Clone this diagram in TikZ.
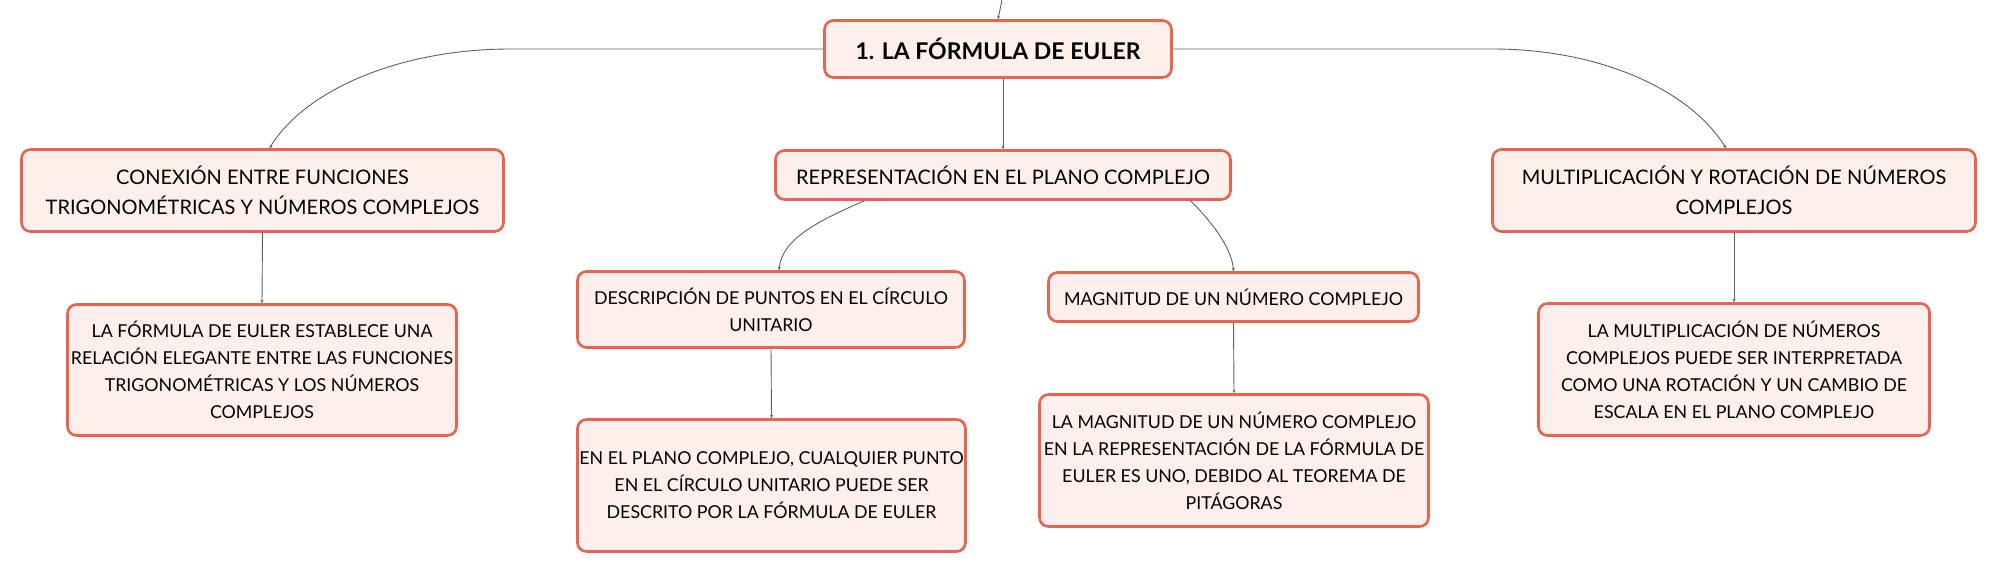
\documentclass[tikz,border=0pt]{standalone}
\usepackage{fontspec}
\setmainfont{Lato}
\usetikzlibrary{arrows.meta,calc}
\definecolor{bordc}{HTML}{E9634F}
\definecolor{fillc}{HTML}{FDF0EC}
\definecolor{linec}{HTML}{5F5F5F}
\begin{document}
\begin{tikzpicture}[x=1pt,y=-1pt,
  box/.style={draw=bordc, fill=fillc, line width=2.6pt, rounded corners=9pt, inner sep=0pt, align=center, text=black},
  big/.style={font=\fontsize{20}{30}\selectfont},
  small/.style={font=\fontsize{17.8}{27}\selectfont},
  conn/.style={draw=linec, line width=0.9pt, -{Stealth[length=3.5pt,width=3pt]}},
]
\useasboundingbox (0,0) rectangle (1997,574);
\node[box, minimum width=347pt, minimum height=57pt, font=\fontsize{23}{28}\selectfont\bfseries] (root) at (998,49) {1. LA FÓRMULA DE EULER};

\node[box, big, minimum width=482pt, minimum height=82pt] (l1) at (262.5,190.5) {CONEXIÓN ENTRE FUNCIONES\\TRIGONOMÉTRICAS Y NÚMEROS COMPLEJOS};
\node[box, big, minimum width=455pt, minimum height=49pt] (c1) at (1003,175) {REPRESENTACIÓN EN EL PLANO COMPLEJO};
\node[box, big, minimum width=483pt, minimum height=82pt] (r1) at (1734,190.5) {MULTIPLICACIÓN Y ROTACIÓN DE NÚMEROS\\COMPLEJOS};

\node[box, small, minimum width=389pt, minimum height=131pt] (l2) at (262,370) {LA FÓRMULA DE EULER ESTABLECE UNA\\RELACIÓN ELEGANTE ENTRE LAS FUNCIONES\\TRIGONOMÉTRICAS Y LOS NÚMEROS\\COMPLEJOS};
\node[box, small, minimum width=387pt, minimum height=76pt] (d2) at (771,309.5) {DESCRIPCIÓN DE PUNTOS EN EL CÍRCULO\\UNITARIO};
\node[box, small, minimum width=370pt, minimum height=49pt] (m2) at (1233.5,297) {MAGNITUD DE UN NÚMERO COMPLEJO};
\node[box, small, minimum width=391pt, minimum height=132pt] (r2) at (1734,369.5) {LA MULTIPLICACIÓN DE NÚMEROS\\COMPLEJOS PUEDE SER INTERPRETADA\\COMO UNA ROTACIÓN Y UN CAMBIO DE\\ESCALA EN EL PLANO COMPLEJO};

\node[box, small, minimum width=388pt, minimum height=132pt] (d3) at (771.5,485.5) {EN EL PLANO COMPLEJO, CUALQUIER PUNTO\\EN EL CÍRCULO UNITARIO PUEDE SER\\DESCRITO POR LA FÓRMULA DE EULER};
\node[box, small, minimum width=389pt, minimum height=132pt] (m3) at (1234,460.5) {LA MAGNITUD DE UN NÚMERO COMPLEJO\\EN LA REPRESENTACIÓN DE LA FÓRMULA DE\\EULER ES UNO, DEBIDO AL TEOREMA DE\\PITÁGORAS};

% incoming line from above
\coordinate (top) at (1002,0);
\draw[conn] (top) -- (root.north);

% root to level 1
\coordinate (lk) at ($(root.west)+(-313,0)$);
\coordinate (le) at ($(l1.north)+(7,0)$);
\draw[conn] (root.west) -- (lk) .. controls (400,49) and (305,90) .. (le);
\coordinate (rk) at ($(root.east)+(320,0)$);
\coordinate (re) at ($(r1.north)+(-8,0)$);
\draw[conn] (root.east) -- (rk) .. controls (1600,49) and (1690,90) .. (re);
\draw[conn] (c1.north |- root.south) -- (c1.north);

% level 1 to level 2
\draw[conn] (l1.south) -- (l2.north);
\draw[conn] (r1.south) -- (r2.north);
\coordinate (cs1) at ($(c1.south west)!0.197!(c1.south east)$);
\coordinate (cs2) at ($(c1.south west)!0.91!(c1.south east)$);
\coordinate (de) at ($(d2.north)+(8,0)$);
\draw[conn] (cs1) .. controls (815,222) and (782,240) .. (de);
\draw[conn] (cs2) .. controls (1215,225) and (1232,250) .. (m2.north);

% level 2 to level 3
\draw[conn] (d2.south) -- (d3.north);
\draw[conn] (m2.south) -- (m3.north);
\end{tikzpicture}
\end{document}
